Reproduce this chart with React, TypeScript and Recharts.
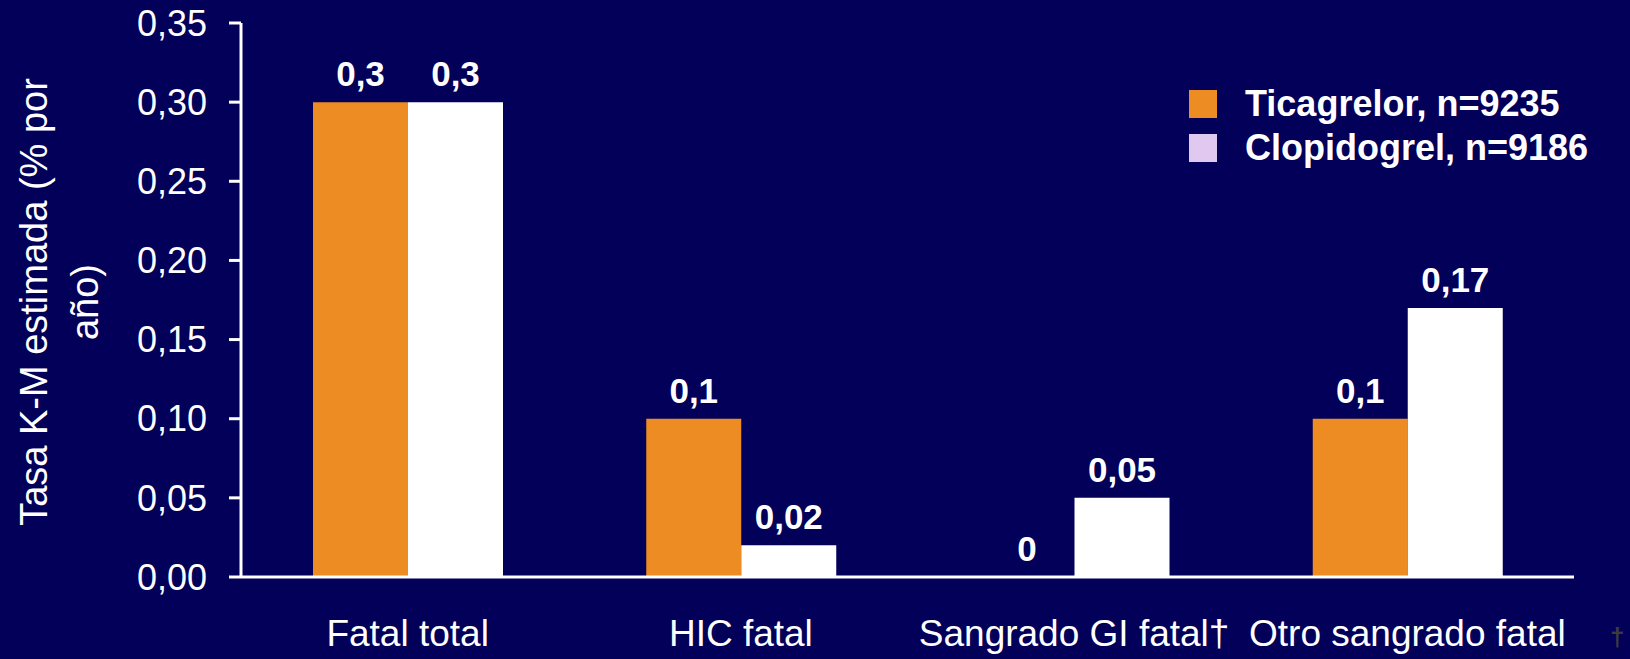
import { BarChart, Bar, XAxis, YAxis, Legend, LabelList } from 'recharts';

const categories = ['Fatal total', 'HIC fatal', 'Sangrado GI fatal†', 'Otro sangrado fatal'];
const ticagrelor = [0.3, 0.1, 0, 0.1];
const clopidogrel = [0.3, 0.02, 0.05, 0.17];
const yTicks = [0, 0.05, 0.1, 0.15, 0.2, 0.25, 0.3, 0.35];
const seriesNames = ['Ticagrelor, n=9235', 'Clopidogrel, n=9186'];

const BG = '#020058';
const ORANGE = '#EC8C22';
const FONT = '"Liberation Sans", Arial, sans-serif';

const data = categories.map((name, i) => ({
    name,
    ticagrelor: ticagrelor[i],
    clopidogrel: clopidogrel[i],
}));

const fmtValue = (v: any) => String(v).replace('.', ',');
const fmtTick = (v: number) => v.toFixed(2).replace('.', ',');

// legend squares: clopidogrel swatch is lavender even though its bars are white
const legendItems = [
    { label: seriesNames[0], color: ORANGE },
    { label: seriesNames[1], color: '#E0C8F0' },
];

function LegendBox() {
    return (
        <div style={{ fontFamily: FONT, fontWeight: 'bold', fontSize: 36, color: '#fff' }}>
            {legendItems.map((item) => (
                <div key={item.label} style={{ display: 'flex', alignItems: 'center', height: 44 }}>
                    <span style={{ display: 'inline-block', width: 28, height: 28, background: item.color, marginRight: 28 }} />
                    <span style={{ lineHeight: '44px', whiteSpace: 'nowrap' }}>{item.label}</span>
                </div>
            ))}
        </div>
    );
}

function YTitle() {
    const cy = 302;
    return (
        <text
            transform={`rotate(-90, 0, ${cy})`}
            x={0}
            y={cy}
            fill="#fff"
            fontFamily={FONT}
            fontSize={38}
            textAnchor="middle"
        >
            <tspan x={0} y={cy + 47}>Tasa K-M estimada (% por</tspan>
            <tspan x={0} y={cy + 98}>año)</tspan>
        </text>
    );
}

// value label drawn above the bar top, also when the value is 0
function ValueLabel(props: any) {
    const { x, y, width, value } = props;
    if (value === undefined || value === null) return null;
    return (
        <text
            x={Number(x) + Number(width) / 2}
            y={Number(y) - 16}
            fill="#fff"
            fontSize={35}
            fontWeight="bold"
            fontFamily={FONT}
            textAnchor="middle"
        >
            {fmtValue(value)}
        </text>
    );
}

// a zero bar gets a hair of height so that its label is still placed
const tinyForZero = (v: any) => (Number(v) === 0 ? 0.01 : 0);

export default function App() {
    return (
        <div style={{ position: 'absolute', left: 0, top: 0, width: 1630, height: 659, background: BG, overflow: 'hidden' }}>
            <BarChart
                width={1630}
                height={659}
                data={data}
                margin={{ top: 23, right: 56, bottom: 52, left: 0 }}
                barGap={0}
                style={{ background: BG }}
            >
                <XAxis
                    dataKey="name"
                    height={30}
                    interval={0}
                    tickLine={false}
                    tickSize={0}
                    tickMargin={43}
                    axisLine={{ stroke: '#fff', strokeWidth: 3 }}
                    tick={{ fill: '#fff', fontSize: 37, fontFamily: FONT }}
                />
                <YAxis
                    width={241}
                    domain={[0, 0.35]}
                    ticks={yTicks}
                    tickFormatter={fmtTick}
                    tickSize={12}
                    tickMargin={22}
                    axisLine={{ stroke: '#fff', strokeWidth: 3 }}
                    tickLine={{ stroke: '#fff', strokeWidth: 3 }}
                    tick={{ fill: '#fff', fontSize: 36, fontFamily: FONT }}
                    label={<YTitle />}
                />
                <Legend
                    layout="horizontal"
                    verticalAlign="middle"
                    align="center"
                    content={() => <LegendBox />}
                    wrapperStyle={{ position: 'absolute', top: 82, left: 1189, width: 420 }}
                />
                <Bar
                    dataKey="ticagrelor"
                    name={seriesNames[0]}
                    fill={ORANGE}
                    barSize={95}
                    minPointSize={tinyForZero}
                    isAnimationActive={false}
                >
                    <LabelList dataKey="ticagrelor" content={ValueLabel} />
                </Bar>
                <Bar dataKey="clopidogrel" name={seriesNames[1]} fill="#FFFFFF" barSize={95} isAnimationActive={false}>
                    <LabelList dataKey="clopidogrel" content={ValueLabel} />
                </Bar>
            </BarChart>
            <span
                style={{ position: 'absolute', left: 1610, top: 622, lineHeight: '30px', color: '#3C3C3C', fontFamily: FONT, fontWeight: 'bold', fontSize: 26 }}
            >
                †
            </span>
        </div>
    );
}
